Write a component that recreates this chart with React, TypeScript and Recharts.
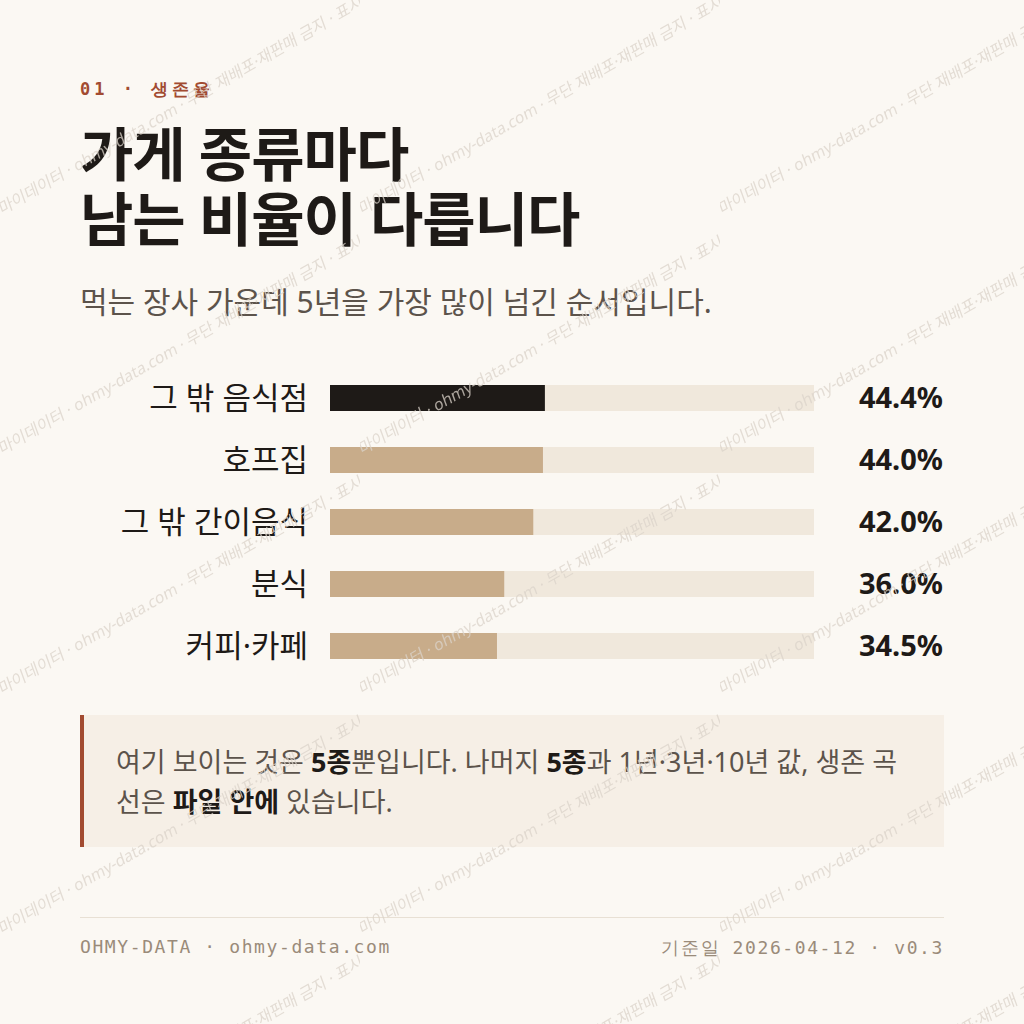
import React from "react";
import {
  BarChart,
  Bar,
  XAxis,
  YAxis,
  Cell,
} from "recharts";

// 5년 생존율 (%)
const categories = ["그 밖 음식점", "호프집", "그 밖 간이음식", "분식", "커피·카페"];
const survival5y = [44.4, 44.0, 42.0, 36.0, 34.5];
const highlightIndex = 0;

const chartData = categories.map((name, i) => ({
  name,
  value: survival5y[i],
  valueLabel: `${survival5y[i].toFixed(1)}%`,
}));

const BG = "#FBF8F3";
const INK = "#1E1A17";
const TAN = "#C8AC8A";
const TRACK = "#F0E8DC";
const ACCENT = "#A24B31";
const MUTED = "#5C534B";
const FOOT = "#9A8B7A";

const KR = '"Noto Sans", "Noto Sans CJK KR", sans-serif';
const MONO = '"DejaVu Sans Mono", "Liberation Mono", monospace';

const WM_TEXT = "마이데이터 · ohmy-data.com · 무단 재배포·재판매 금지 · 표시";

const Watermark = () => (
  <svg
    width={1024}
    height={1024}
    style={{ position: "absolute", left: 0, top: 0, pointerEvents: "none" }}
  >
    <defs>
      <pattern id="wm" width={360} height={240} patternUnits="userSpaceOnUse" y={-20}>
        <text
          x={2}
          y={0}
          transform="translate(0 236) rotate(-30) skewX(-10)"
          fontFamily={KR}
          fontSize={16}
          fill="#DAD3C9"
          fillOpacity={0.75}
        >
          {WM_TEXT}
        </text>
      </pattern>
    </defs>
    <rect width={1024} height={1024} fill="url(#wm)" />
  </svg>
);

const LabelTick = (props: any) => {
  const { x, y, payload } = props;
  return (
    <text
      x={x}
      y={y}
      dy={11}
      textAnchor="end"
      fontFamily={KR}
      fontSize={31}
      fill={INK}
    >
      {payload.value}
    </text>
  );
};

const ValueTick = (props: any) => {
  const { x, y, payload } = props;
  return (
    <text
      x={x + 129}
      y={y}
      dy={10}
      textAnchor="end"
      fontFamily={KR}
      fontSize={29}
      fontWeight={700}
      fill={INK}
    >
      {payload.value}
    </text>
  );
};

export default function App() {
  return (
    <div
      style={{
        position: "absolute",
        left: 0,
        top: 0,
        width: 1024,
        height: 1024,
        background: BG,
        overflow: "hidden",
        fontFamily: KR,
      }}
    >
      <div
        style={{
          position: "absolute",
          left: 80,
          top: 78,
          fontFamily: MONO,
          fontSize: 17,
          fontWeight: 700,
          letterSpacing: 4,
          color: ACCENT,
        }}
      >
        01 · 생존율
      </div>

      <div
        style={{
          position: "absolute",
          left: 80,
          top: 121,
          fontSize: 58,
          fontWeight: 700,
          lineHeight: "65px",
          letterSpacing: -1,
          color: INK,
          whiteSpace: "nowrap",
        }}
      >
        가게 종류마다
        <br />
        남는 비율이 다릅니다
      </div>

      <div
        style={{
          position: "absolute",
          left: 80,
          top: 278,
          fontSize: 30,
          color: MUTED,
          whiteSpace: "nowrap",
        }}
      >
        먹는 장사 가운데 5년을 가장 많이 넘긴 순서입니다.
      </div>

      <div style={{ position: "absolute", left: 0, top: 367 }}>
        <BarChart
          width={1024}
          height={310}
          data={chartData}
          layout="vertical"
          margin={{ top: 0, right: 0, bottom: 0, left: 0 }}
          barCategoryGap={0}
        >
          <XAxis type="number" domain={[0, 100]} hide />
          <YAxis
            yAxisId="left"
            type="category"
            dataKey="name"
            width={330}
            axisLine={false}
            tickLine={false}
            tickSize={0}
            tickMargin={22}
            tick={<LabelTick />}
            interval={0}
          />
          <YAxis
            yAxisId="right"
            orientation="right"
            type="category"
            dataKey="valueLabel"
            width={210}
            axisLine={false}
            tickLine={false}
            tickSize={0}
            tickMargin={0}
            tick={<ValueTick />}
            interval={0}
          />
          <Bar
            yAxisId="left"
            dataKey="value"
            barSize={26}
            background={{ fill: TRACK }}
            isAnimationActive={false}
          >
            {chartData.map((d, i) => (
              <Cell key={d.name} fill={i === highlightIndex ? INK : TAN} />
            ))}
          </Bar>
        </BarChart>
      </div>

      <div
        style={{
          position: "absolute",
          left: 80,
          top: 715,
          width: 864,
          height: 132,
          boxSizing: "border-box",
          background: "#F6EFE6",
          borderLeft: `4px solid ${ACCENT}`,
          padding: "27px 20px 0 32px",
          fontSize: 27,
          lineHeight: "40px",
          color: MUTED,
          whiteSpace: "nowrap",
        }}
      >
        여기 보이는 것은 <b style={{ color: INK }}>5종</b>뿐입니다. 나머지{" "}
        <b style={{ color: INK }}>5종</b>과 1년·3년·10년 값, 생존 곡
        <br />
        선은 <b style={{ color: INK }}>파일 안에</b> 있습니다.
      </div>

      <div
        style={{
          position: "absolute",
          left: 80,
          top: 917,
          width: 864,
          height: 1,
          background: "#E8E0D4",
        }}
      />
      <div
        style={{
          position: "absolute",
          left: 80,
          top: 936,
          fontFamily: MONO,
          fontSize: 18,
          letterSpacing: 1.6,
          color: FOOT,
        }}
      >
        OHMY-DATA · ohmy-data.com
      </div>
      <div
        style={{
          position: "absolute",
          right: 80,
          top: 936,
          fontFamily: MONO,
          fontSize: 18,
          letterSpacing: 1.6,
          color: FOOT,
        }}
      >
        기준일 2026-04-12 · v0.3
      </div>

      <Watermark />
    </div>
  );
}
